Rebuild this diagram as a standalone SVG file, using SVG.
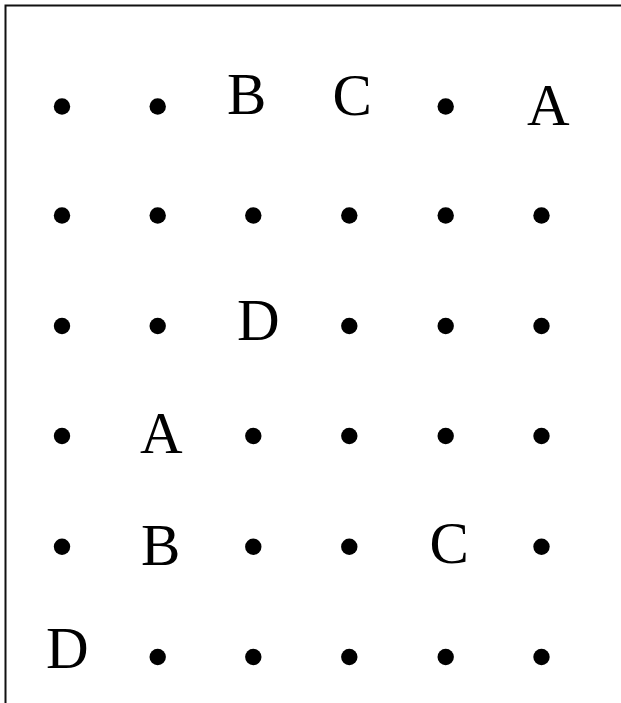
<svg xmlns="http://www.w3.org/2000/svg" width="621" height="703" viewBox="0 0 621 703">
<style>
.dot{fill:#000}
.lbl{font-family:"Liberation Serif","Times New Roman",serif;font-size:59px;fill:#000}
.frame{fill:none;stroke:#111;stroke-width:2}
</style>
<rect x="0" y="0" width="621" height="703" fill="#fff"/>
<path class="frame" d="M5.5,703 V5.5 H621"/>
<g id="row1">
<circle class="dot" cx="62" cy="106.5" r="8.2"/>
<circle class="dot" cx="157.7" cy="106.5" r="8.2"/>
<text class="lbl" x="227" y="114">B</text>
<text class="lbl" x="332.5" y="115">C</text>
<circle class="dot" cx="445.7" cy="106.5" r="8.2"/>
<text class="lbl" x="527" y="125">A</text>
</g>
<g id="row2">
<circle class="dot" cx="62" cy="215.5" r="8.2"/>
<circle class="dot" cx="157.7" cy="215.5" r="8.2"/>
<circle class="dot" cx="253.3" cy="215.5" r="8.2"/>
<circle class="dot" cx="349.3" cy="215.5" r="8.2"/>
<circle class="dot" cx="445.7" cy="215.5" r="8.2"/>
<circle class="dot" cx="541.5" cy="215.5" r="8.2"/>
</g>
<g id="row3">
<circle class="dot" cx="62" cy="326" r="8.2"/>
<circle class="dot" cx="157.7" cy="326" r="8.2"/>
<text class="lbl" x="237" y="340">D</text>
<circle class="dot" cx="349.3" cy="326" r="8.2"/>
<circle class="dot" cx="445.7" cy="326" r="8.2"/>
<circle class="dot" cx="541.5" cy="326" r="8.2"/>
</g>
<g id="row4">
<circle class="dot" cx="62" cy="436" r="8.2"/>
<text class="lbl" x="140" y="452.5">A</text>
<circle class="dot" cx="253.3" cy="436" r="8.2"/>
<circle class="dot" cx="349.3" cy="436" r="8.2"/>
<circle class="dot" cx="445.7" cy="436" r="8.2"/>
<circle class="dot" cx="541.5" cy="436" r="8.2"/>
</g>
<g id="row5">
<circle class="dot" cx="62" cy="546.7" r="8.2"/>
<text class="lbl" x="141" y="565">B</text>
<circle class="dot" cx="253.3" cy="546.7" r="8.2"/>
<circle class="dot" cx="349.3" cy="546.7" r="8.2"/>
<text class="lbl" x="429.5" y="563">C</text>
<circle class="dot" cx="541.5" cy="546.7" r="8.2"/>
</g>
<g id="row6">
<text class="lbl" x="46" y="668">D</text>
<circle class="dot" cx="157.7" cy="657" r="8.2"/>
<circle class="dot" cx="253.3" cy="657" r="8.2"/>
<circle class="dot" cx="349.3" cy="657" r="8.2"/>
<circle class="dot" cx="445.7" cy="657" r="8.2"/>
<circle class="dot" cx="541.5" cy="657" r="8.2"/>
</g>
</svg>
